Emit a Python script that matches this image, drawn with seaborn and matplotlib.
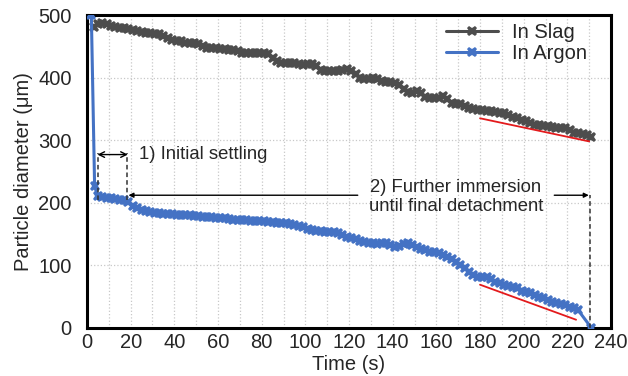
import numpy as np
import pandas as pd
import matplotlib
matplotlib.use("Agg")
import matplotlib.pyplot as plt
import seaborn as sns
from matplotlib.ticker import MultipleLocator

# ---------------- data ----------------
slag_time = list(range(3, 233, 2))
slag_diam = [
    481, 485, 488, 485, 482, 481, 480, 479, 477, 476,
    474, 473, 472, 471, 470, 469, 466, 463, 460, 459,
    458, 456, 455, 455, 454, 450, 447, 447, 447, 446,
    445, 444, 444, 442, 439, 439, 439, 440, 440, 439,
    437, 432, 426, 424, 424, 424, 423, 422, 420, 421,
    422, 418, 412, 411, 411, 411, 411, 412, 413, 410,
    405, 400, 397, 398, 399, 397, 394, 393, 393, 391,
    388, 382, 377, 376, 378, 375, 369, 367, 367, 368,
    370, 366, 359, 358, 358, 355, 352, 350, 349, 348,
    347, 346, 345, 343, 343, 341, 337, 335, 333, 331,
    327, 325, 324, 323, 322, 321, 320, 320, 319, 317,
    312, 311, 310, 308, 305,
]

argon_time = [2, 3.5] + list(range(5, 227, 2)) + [231]
argon_diam = [
    500, 226,
    210, 209, 208, 207, 206, 205, 204, 201, 194, 191,
    189, 186, 185, 183, 183, 182, 182, 182, 181, 181,
    180, 180, 179, 179, 178, 178, 177, 176, 175, 175,
    174, 173, 173, 172, 172, 171, 171, 171, 171, 170,
    170, 168, 167, 167, 166, 165, 163, 161, 158, 157,
    155, 155, 154, 154, 153, 151, 149, 146, 144, 142,
    139, 137, 136, 135, 134, 136, 136, 133, 130, 131,
    134, 135, 133, 129, 126, 124, 122, 121, 119, 117,
    113, 110, 106, 101, 96, 90, 85, 82, 82, 81,
    78, 74, 71, 69, 67, 66, 63, 59, 57, 55,
    52, 50, 48, 45, 42, 40, 38, 36, 34, 31,
    28,
    0,
]

# linear-fit guide lines (red)
slag_fit_t = [180, 230]
slag_fit_d = [335, 298]
argon_fit_t = [180, 224]
argon_fit_d = [69, 13]

x_ticks = list(range(0, 241, 20))
y_ticks = list(range(0, 501, 100))

# ---------------- style ----------------
sns.set_style("white")
plt.rcParams["font.family"] = ["Liberation Sans", "DejaVu Sans"]

fig = plt.figure(figsize=(6.28, 3.76), dpi=100)
ax = fig.add_axes([0.1385, 0.128, 0.8345, 0.832])

df_slag = pd.DataFrame({"t": slag_time, "d": slag_diam})
df_argon = pd.DataFrame({"t": argon_time, "d": argon_diam})

gray = "#4d4d4d"
blue = "#4472c4"

sns.lineplot(data=df_slag, x="t", y="d", ax=ax, color=gray, lw=2.2,
             marker="X", markersize=7.5, markeredgewidth=0,
             label="In Slag", sort=False, zorder=3)
sns.lineplot(data=df_argon, x="t", y="d", ax=ax, color=blue, lw=2.2,
             marker="X", markersize=7.5, markeredgewidth=0,
             label="In Argon", sort=False, zorder=3)

ax.plot(slag_fit_t, slag_fit_d, color="#e31a1c", lw=1.3, zorder=4)
ax.plot(argon_fit_t, argon_fit_d, color="#e31a1c", lw=1.3, zorder=4)

ax.set_xlim(0, 240)
ax.set_ylim(0, 500)
ax.set_xticks(x_ticks)
ax.set_yticks(y_ticks)
ax.xaxis.set_minor_locator(MultipleLocator(10))
ax.yaxis.set_minor_locator(MultipleLocator(50))
ax.tick_params(which="both", direction="in", labelsize=14.5, length=4, width=1.2,
               top=False, right=False)
ax.tick_params(which="minor", length=3)
ax.tick_params(axis="x", pad=4)
ax.tick_params(axis="y", pad=11)

ax.grid(which="major", axis="y", color="#c8c8c8", ls=":", lw=0.9)
ax.grid(which="both", axis="x", color="#c8c8c8", ls=":", lw=0.9)
ax.set_axisbelow(True)

for s in ax.spines.values():
    s.set_color("black")
    s.set_linewidth(2.2)
    s.set_visible(True)

ax.set_xlabel("Time (s)", fontsize=14.5, labelpad=2)
ax.set_ylabel("Particle diameter (μm)", fontsize=14.5, labelpad=4)

leg = ax.legend(loc="upper right", frameon=False, fontsize=14.5,
                handlelength=2.6, borderaxespad=0.2, labelspacing=0.1,
                handletextpad=0.7, bbox_to_anchor=(0.978, 1.012))

# ---------------- annotations ----------------
# 1) initial settling
for xv in (5.2, 18.3):
    ax.plot([xv, xv], [204, 279], color="#333333", lw=1.1, ls=(0, (3, 2)), zorder=5)
ax.annotate("", xy=(4.8, 277), xytext=(18.7, 277),
            arrowprops=dict(arrowstyle="<->", color="black", lw=1.0,
                            shrinkA=0, shrinkB=0))
ax.text(24, 277, "1) Initial settling", fontsize=13.3, va="center", ha="left")

# 2) further immersion
ax.annotate("", xy=(19, 212), xytext=(124, 212),
            arrowprops=dict(arrowstyle="-|>", color="black", lw=1.0,
                            mutation_scale=7, shrinkA=0, shrinkB=0))
ax.annotate("", xy=(229.8, 212), xytext=(214, 212),
            arrowprops=dict(arrowstyle="-|>", color="black", lw=1.0,
                            mutation_scale=7, shrinkA=0, shrinkB=0))
ax.plot([230.5, 230.5], [0, 212], color="#333333", lw=1.1, ls=(0, (3, 2)), zorder=5)
ax.text(169, 209, "2) Further immersion\nuntil final detachment", fontsize=13.3,
        va="center", ha="center", linespacing=1.1)

fig.savefig("out.png", dpi=100)
